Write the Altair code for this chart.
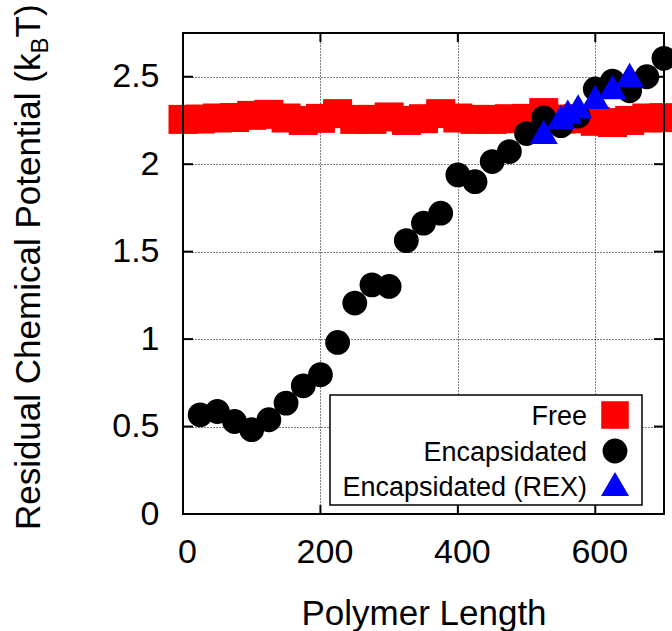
import altair as alt
import pandas as pd

# ---------------- data ----------------
free_x = [0, 25, 50, 75, 100, 125, 150, 175, 200, 225, 250, 275, 300, 325, 350,
          375, 400, 425, 450, 475, 500, 525, 550, 575, 600, 625, 650, 675, 700]
free_y = [2.256, 2.258, 2.264, 2.267, 2.279, 2.285, 2.264, 2.250, 2.262, 2.289,
          2.256, 2.256, 2.270, 2.250, 2.260, 2.289, 2.264, 2.256, 2.256, 2.260,
          2.262, 2.295, 2.258, 2.260, 2.245, 2.238, 2.250, 2.264, 2.266]

enc_x = [25, 50, 75, 100, 125, 150, 175, 200, 225, 250, 275, 300, 325, 350,
         375, 400, 425, 450, 475, 500, 525, 550, 575, 600, 625, 650, 675, 700]
enc_y = [0.567, 0.586, 0.529, 0.482, 0.539, 0.634, 0.733, 0.796, 0.981, 1.206,
         1.310, 1.301, 1.563, 1.663, 1.720, 1.939, 1.900, 2.015, 2.072, 2.175,
         2.265, 2.220, 2.275, 2.430, 2.475, 2.420, 2.500, 2.605]

rex_x = [525, 550, 560, 575, 600, 625, 650]
rex_y = [2.185, 2.270, 2.300, 2.330, 2.385, 2.440, 2.510]

x_ticks = [0, 200, 400, 600]
y_ticks = [0, 0.5, 1, 1.5, 2, 2.5]
legend_labels = ["Free", "Encapsidated", "Encapsidated (REX)"]

# ---------------- style ----------------
W, H = 481, 481
FONT = "Liberation Sans"

xs = alt.Scale(domain=[0, 700], nice=False, zero=False)
ys = alt.Scale(domain=[0, 2.75], nice=False, zero=False)

grid_style = dict(grid=True, gridColor="black", gridDash=[1, 2], gridWidth=1,
                  gridOpacity=1, ticks=False, domain=False,
                  labelFont=FONT, labelColor="black", titleFont=FONT,
                  titleColor="black")

x_axis = alt.Axis(values=x_ticks, format="d", labelFontSize=34, labelPadding=21,
                  labelOffset=4, labelFlush=False, labelOverlap=False,
                  title="Polymer Length", titleFontSize=35,
                  titleFontWeight="normal", titleBaseline="alphabetic",
                  titleY=110, **grid_style)
y_axis = alt.Axis(values=y_ticks, format="~g", labelFontSize=34, labelPadding=24,
                  labelFlush=False, labelOverlap=False, title="", **grid_style)

X = alt.X("x:Q", scale=xs, axis=x_axis)
Y = alt.Y("y:Q", scale=ys, axis=y_axis)

df_free = pd.DataFrame({"x": free_x, "y": free_y})
df_enc = pd.DataFrame({"x": enc_x, "y": enc_y})
df_rex = pd.DataFrame({"x": rex_x, "y": rex_y})
df_xt = pd.DataFrame({"x": x_ticks})
df_yt = pd.DataFrame({"y": y_ticks})
one = pd.DataFrame({"a": [0]})

free = alt.Chart(df_free).mark_point(shape="square", filled=True, size=841,
                                     color="#ff0000", opacity=1).encode(x=X, y=Y)
enc = alt.Chart(df_enc).mark_point(shape="circle", filled=True, size=616,
                                   color="#000000", opacity=1).encode(x=X, y=Y)
rex = alt.Chart(df_rex).mark_point(shape="triangle-up", filled=True, size=784,
                                   color="#0000ff", opacity=1).encode(x=X, y=Y)

# inward ticks on all four sides
tick_b = alt.Chart(df_xt).mark_rule(color="black", strokeWidth=2).encode(
    x=X, y=alt.value(H), y2=alt.value(H - 9))
tick_t = alt.Chart(df_xt).mark_rule(color="black", strokeWidth=2).encode(
    x=X, y=alt.value(0), y2=alt.value(9))
tick_l = alt.Chart(df_yt).mark_rule(color="black", strokeWidth=2).encode(
    y=Y, x=alt.value(0), x2=alt.value(10))
tick_r = alt.Chart(df_yt).mark_rule(color="black", strokeWidth=2).encode(
    y=Y, x=alt.value(W), x2=alt.value(W - 10))

frame = alt.Chart(one).mark_rect(fillOpacity=0, stroke="black", strokeWidth=2).encode(
    x=alt.value(0), x2=alt.value(W), y=alt.value(0), y2=alt.value(H))

# legend (manual, labels left of symbols)
leg_box = alt.Chart(one).mark_rect(fill="white", stroke="black", strokeWidth=1.5).encode(
    x=alt.value(147), x2=alt.value(459), y=alt.value(362), y2=alt.value(472))
leg_layers = [leg_box]
leg_baselines = [391.5, 427.5, 463.0]
leg_centers = [382, 418, 451]
leg_shapes = [("square", 760, "#ff0000"), ("circle", 616, "#000000"),
              ("triangle-up", 784, "#0000ff")]
for lab, bl, cy, (shp, sz, col) in zip(legend_labels, leg_baselines, leg_centers, leg_shapes):
    leg_layers.append(
        alt.Chart(one).mark_text(font=FONT, fontSize=27, align="right",
                                 baseline="alphabetic", color="black").encode(
            x=alt.value(404), y=alt.value(bl), text=alt.value(lab)))
    leg_layers.append(
        alt.Chart(one).mark_point(shape=shp, filled=True, size=sz, color=col,
                                  opacity=1).encode(x=alt.value(432), y=alt.value(cy)))

# y-axis title with subscript
yt1 = alt.Chart(one).mark_text(font=FONT, fontSize=35, angle=270, align="right",
                               baseline="alphabetic", color="black").encode(
    x=alt.value(-143), y=alt.value(20.5), text=alt.value("Residual Chemical Potential (k"))
yt2 = alt.Chart(one).mark_text(font=FONT, fontSize=24, angle=270, align="left",
                               baseline="alphabetic", color="black").encode(
    x=alt.value(-135), y=alt.value(20.5), text=alt.value("B"))
yt3 = alt.Chart(one).mark_text(font=FONT, fontSize=35, angle=270, align="left",
                               baseline="alphabetic", color="black").encode(
    x=alt.value(-143), y=alt.value(4.5), text=alt.value("T)"))

chart = alt.layer(
    free, enc, rex, *leg_layers, tick_b, tick_t, tick_l, tick_r, frame, yt1, yt2, yt3
).properties(
    width=W, height=H,
    autosize=alt.AutoSizeParams(type="none"),
    padding={"left": 183, "top": 33, "right": 8, "bottom": 117},
    background="white",
).configure_view(strokeWidth=0)

chart.save("out.html", embed_options={"renderer": "svg", "actions": False})
